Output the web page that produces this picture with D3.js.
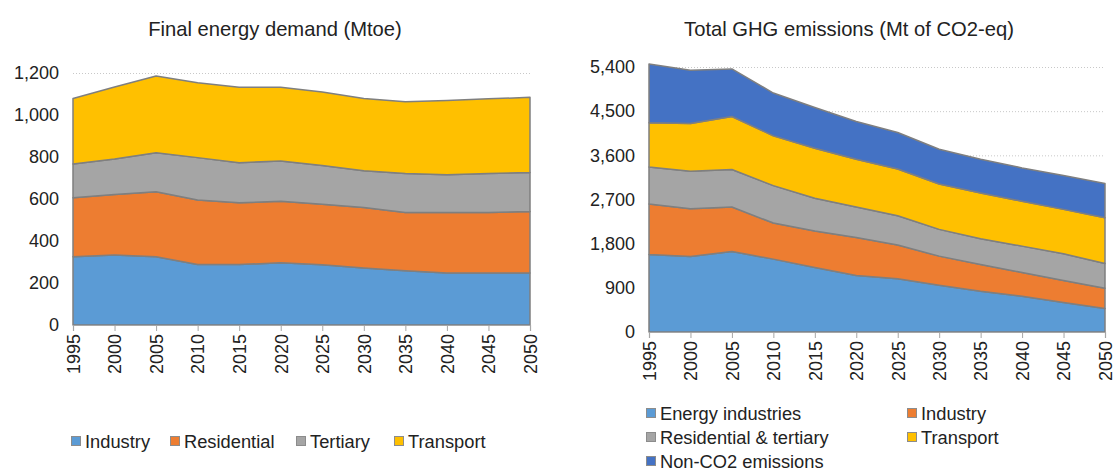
<!DOCTYPE html>
<html>
<head>
<meta charset="utf-8">
<script src="https://cdn.jsdelivr.net/npm/d3@7"></script>
<style>
  body { margin: 0; background: #fff; }
  svg { display: block; font-family: "Liberation Sans", Arial, sans-serif; }
</style>
</head>
<body>
<svg id="chart" width="1117" height="473"></svg>
<script>
// 年份
const years = [1995, 2000, 2005, 2010, 2015, 2020, 2025, 2030, 2035, 2040, 2045, 2050];

// 最终能源需求 (Mtoe)
const energyKeys = ['Industry', 'Residential', 'Tertiary', 'Transport'];
const energyIndustry    = [325, 333, 325, 288, 288, 296, 287, 272, 258, 248, 248, 248];
const energyResidential = [281, 288, 310, 307, 294, 293, 288, 287, 278, 288, 288, 293];
const energyTertiary    = [161, 170, 185, 202, 191, 192, 184, 176, 185, 179, 185, 185];
const energyTransport   = [312, 342, 366, 357, 359, 351, 350, 344, 342, 354, 356, 358];
const energyTicks = [0, 200, 400, 600, 800, 1000, 1200];

// 温室气体排放 (Mt CO2-eq)
const ghgKeys = ['Energy industries', 'Industry', 'Residential & tertiary', 'Transport', 'Non-CO2 emissions'];
const ghgEnergyInd = [1580, 1539, 1641, 1485, 1314, 1151, 1083, 953, 831, 729, 599, 477];
const ghgIndustry  = [1028, 974, 906, 735, 743, 776, 688, 593, 545, 483, 450, 415];
const ghgResTer    = [756, 763, 763, 763, 667, 620, 599, 545, 524, 538, 545, 504];
const ghgTransport = [899, 973, 1082, 1014, 1022, 974, 953, 926, 933, 913, 905, 933];
const ghgNonCO2    = [1199, 1083, 968, 872, 830, 769, 743, 708, 688, 681, 688, 695];
const ghgTicks = [0, 900, 1800, 2700, 3600, 4500, 5400];

const colors = {
    blue: '#5b9bd5', orange: '#ed7d31', gray: '#a5a5a5', yellow: '#ffc000', dark: '#4472c4'
};

const svg = d3.select('#chart');

// 画一个堆叠面积图
function drawStackedArea(opts) {
    const rows = years.map((y, i) => {
        const r = { year: y };
        opts.keys.forEach((k, j) => { r[k] = opts.series[j][i]; });
        return r;
    });

    const x = d3.scaleLinear().domain([years[0], years[years.length - 1]]).range([opts.x0, opts.x1]);
    const y = d3.scaleLinear().domain([0, opts.ticks[opts.ticks.length - 1]]).range([opts.y0, opts.y1]);

    const g = svg.append('g');

    // 网格线
    g.append('g')
        .selectAll('line')
        .data(opts.ticks.slice(1))
        .join('line')
        .attr('x1', opts.x0).attr('x2', opts.x1)
        .attr('y1', d => y(d) + 0.5).attr('y2', d => y(d) + 0.5)
        .attr('stroke', '#c8c8c8')
        .attr('stroke-width', 1)
        .attr('stroke-dasharray', '1,2');

    const stack = d3.stack().keys(opts.keys)(rows);
    const area = d3.area()
        .x(d => x(d.data.year))
        .y0(d => y(d[0]))
        .y1(d => y(d[1]));

    g.append('g')
        .selectAll('path')
        .data(stack)
        .join('path')
        .attr('d', area)
        .attr('fill', (d, i) => opts.colors[i])
        .attr('stroke', '#7f7f7f')
        .attr('stroke-width', 1.5)
        .attr('stroke-linejoin', 'round');

    // x 轴
    const xAxis = d3.axisBottom(x)
        .tickValues(years)
        .tickFormat(d3.format('d'))
        .tickSize(6)
        .tickPadding(4);
    const xg = g.append('g')
        .attr('transform', `translate(0,${opts.y0})`)
        .call(xAxis);
    xg.select('.domain').attr('stroke', '#a6a6a6').attr('stroke-width', 1.2);
    xg.selectAll('.tick line').attr('stroke', '#a6a6a6');
    xg.selectAll('.tick text')
        .attr('font-size', 18)
        .attr('fill', '#222')
        .attr('font-family', 'Liberation Sans, Arial, sans-serif')
        .attr('transform', 'rotate(-90)')
        .attr('text-anchor', 'end')
        .attr('x', -9)
        .attr('y', 0)
        .attr('dy', '0.35em');

    // y 轴
    const yAxis = d3.axisLeft(y)
        .tickValues(opts.ticks)
        .tickFormat(d3.format(','))
        .tickSize(0)
        .tickPadding(14);
    const yg = g.append('g')
        .attr('transform', `translate(${opts.x0},0)`)
        .call(yAxis);
    yg.select('.domain').remove();
    yg.selectAll('.tick text')
        .attr('font-size', 18)
        .attr('fill', '#222')
        .attr('font-family', 'Liberation Sans, Arial, sans-serif');

    // 标题
    svg.append('text')
        .attr('x', opts.titleX)
        .attr('y', 36)
        .attr('text-anchor', 'middle')
        .attr('font-size', 20.2)
        .attr('fill', '#222')
        .text(opts.title);

    // 图例
    const leg = svg.append('g');
    opts.legend.forEach((item, i) => {
        const lg = leg.append('g').attr('transform', `translate(${item.x},${item.y})`);
        lg.append('rect')
            .attr('x', 0.5).attr('y', -5.5)
            .attr('width', 9).attr('height', 9)
            .attr('fill', opts.colors[i])
            .attr('stroke', '#8c8c8c')
            .attr('stroke-width', 1);
        lg.append('text')
            .attr('x', 14)
            .attr('y', 0)
            .attr('dy', '0.35em')
            .attr('font-size', 18.3)
            .attr('fill', '#222')
            .text(opts.keys[i]);
    });
}

drawStackedArea({
    keys: energyKeys,
    series: [energyIndustry, energyResidential, energyTertiary, energyTransport],
    colors: [colors.blue, colors.orange, colors.gray, colors.yellow],
    ticks: energyTicks,
    x0: 73, x1: 530, y0: 325, y1: 73,
    title: 'Final energy demand (Mtoe)',
    titleX: 275,
    legend: [
        { x: 71, y: 442 }, { x: 170, y: 442 }, { x: 296, y: 442 }, { x: 394, y: 442 }
    ]
});

drawStackedArea({
    keys: ghgKeys,
    series: [ghgEnergyInd, ghgIndustry, ghgResTer, ghgTransport, ghgNonCO2],
    colors: [colors.blue, colors.orange, colors.gray, colors.yellow, colors.dark],
    ticks: ghgTicks,
    x0: 649, x1: 1105, y0: 332, y1: 67,
    title: 'Total GHG emissions (Mt of CO2-eq)',
    titleX: 849,
    legend: [
        { x: 646, y: 414 }, { x: 907, y: 414 },
        { x: 646, y: 438 }, { x: 907, y: 438 },
        { x: 646, y: 462 }
    ]
});
</script>
</body>
</html>
